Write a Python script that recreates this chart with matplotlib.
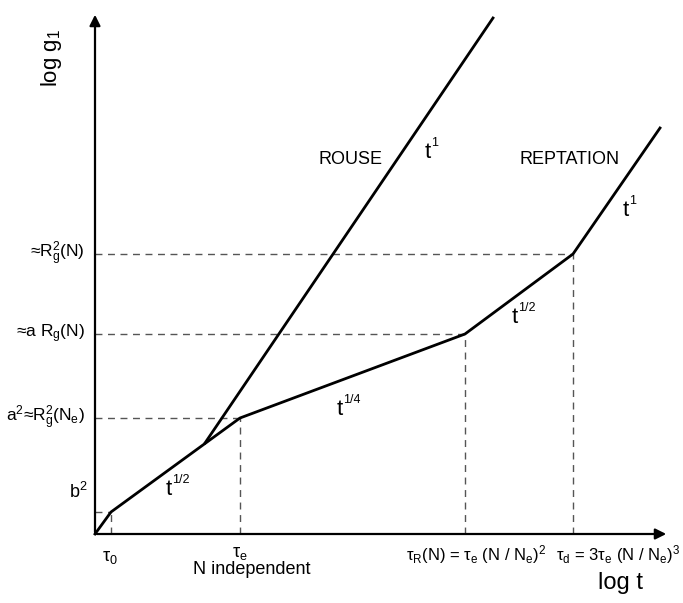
import matplotlib.pyplot as plt

plt.rcParams['font.family'] = ['Liberation Sans', 'DejaVu Sans']
plt.rcParams['mathtext.fontset'] = 'custom'
plt.rcParams['mathtext.rm'] = 'Liberation Sans'
plt.rcParams['mathtext.it'] = 'Liberation Sans'
plt.rcParams['mathtext.bf'] = 'Liberation Sans:bold'

# schematic values (log t, log g1) in arbitrary units
main_t = [0, 16, 145, 370, 478, 565]
main_g = [0, 22, 116, 200, 280, 406]
rouse_t = [110, 398]
rouse_g = [91, 516]

# characteristic times and levels
tau_t = [16, 145, 370, 478]
tau_g = [22, 116, 200, 280]
level_labels = ['b$^2$', 'a$^2$≈R$_g^2$(N$_e$)', '≈a R$_g$(N)', '≈R$_g^2$(N)']

# power laws: (t, g) of label, exponent
power_t = [330, 528, 71, 242, 417]
power_g = [376, 318, 39, 119, 211]
power_exp = ['1', '1', '1/2', '1/4', '1/2']

fig = plt.figure(figsize=(6.83, 6.03), dpi=100)
ax = fig.add_axes([0, 0, 1, 1])
ax.set_xlim(-95, 588)
ax.set_ylim(-69, 534)
ax.axis('off')

# axes with arrows
ax.annotate('', xy=(0, 522), xytext=(0, -1),
            arrowprops=dict(arrowstyle='-|>', lw=1.6, color='k', mutation_scale=16))
ax.annotate('', xy=(574, 0), xytext=(-1, 0),
            arrowprops=dict(arrowstyle='-|>', lw=1.6, color='k', mutation_scale=16))

# dashed guide lines
for t, g in zip(tau_t, tau_g):
    ax.plot([0, t], [g, g], color='#555555', lw=1.0, dashes=(5, 4))
    ax.plot([t, t], [0, g], color='#555555', lw=1.0, dashes=(5, 4))

ax.plot(main_t, main_g, color='k', lw=2.0, solid_joinstyle='miter')
ax.plot(rouse_t, rouse_g, color='k', lw=2.0)

# level labels
for g, lab in zip(tau_g[1:], level_labels[1:]):
    ax.text(-10, g, lab, ha='right', va='center', fontsize=12.5)
ax.text(-17, 42, level_labels[0], ha='center', va='center', fontsize=13)

# time labels
ax.text(15, -23, 'τ$_0$', ha='center', va='center', fontsize=13)
ax.text(145, -19, 'τ$_e$', ha='center', va='center', fontsize=13)
ax.text(157, -36, 'N independent', ha='center', va='center', fontsize=13)
ax.text(381, -21, 'τ$_R$(N) = τ$_e$ (N / N$_e$)$^2$', ha='center', va='center', fontsize=12)
ax.text(523, -21, 'τ$_d$ = 3τ$_e$ (N / N$_e$)$^3$', ha='center', va='center', fontsize=12)

ax.text(526, -49, 'log t', ha='center', va='center', fontsize=17)
ax.text(-43, 476, 'log g$_1$', ha='center', va='center', fontsize=16, rotation=90)

# regime labels
ax.text(255, 375, 'ROUSE', ha='center', va='center', fontsize=13)
ax.text(475, 374, 'REPTATION', ha='center', va='center', fontsize=13)

# power-law labels: big t with small exponent
for t, g, e in zip(power_t, power_g, power_exp):
    ax.text(t, g, 't', ha='left', va='baseline', fontsize=16)
    ax.annotate(e, xy=(t, g), xytext=(4.6, 8.5), textcoords='offset points',
                ha='left', va='baseline', fontsize=9)

fig.savefig('out.png', dpi=100)
